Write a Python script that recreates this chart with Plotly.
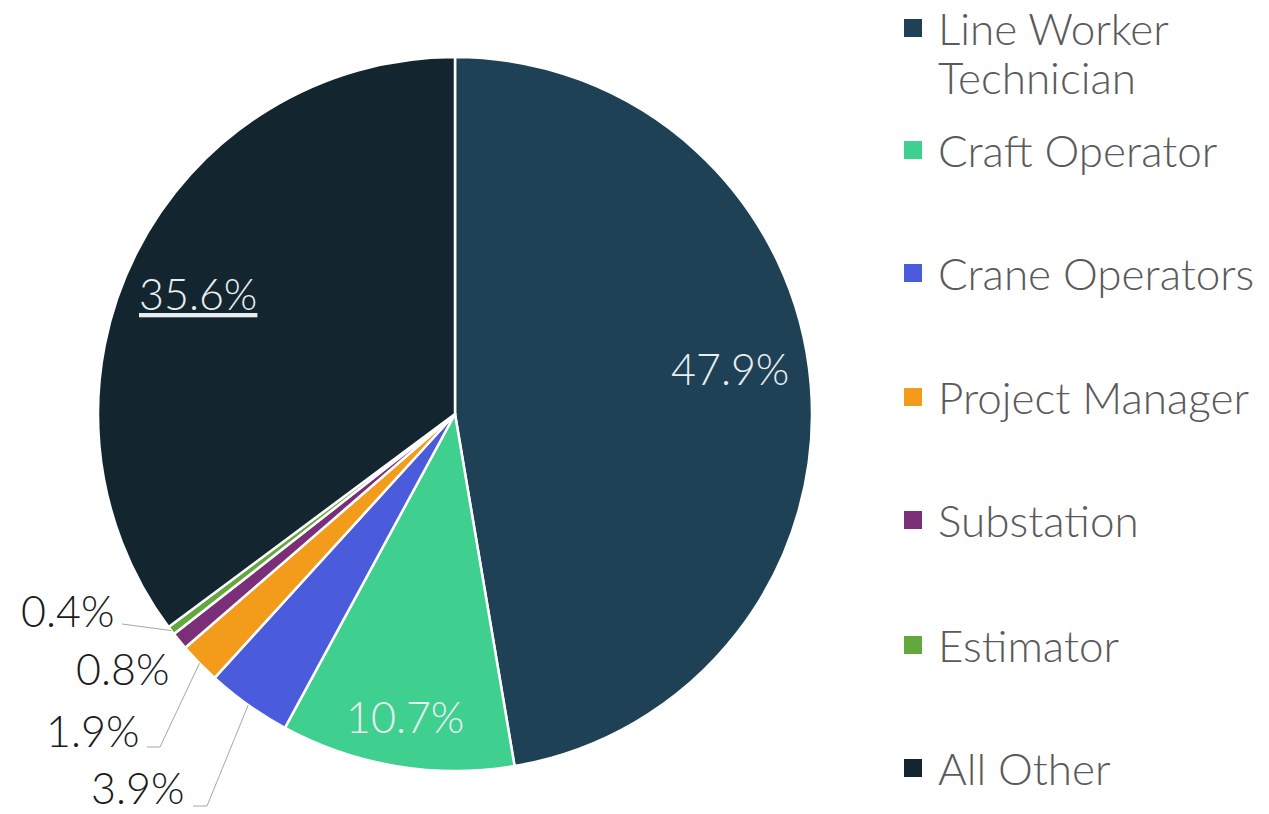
import math
import plotly.graph_objects as go

# ---- data ----
categories = ["Line Worker Technician", "Craft Operator", "Crane Operators",
              "Project Manager", "Substation", "Estimator", "All Other"]
legend_labels = ["Line Worker<br>Technician", "Craft Operator", "Crane Operators",
                 "Project Manager", "Substation", "Estimator", "All Other"]
values = [47.9, 10.7, 3.9, 1.9, 0.8, 0.4, 35.6]
colors = ["#1f4155", "#3fd08f", "#4a5cdc", "#f39c1c", "#7a2f78", "#63a83c", "#13252f"]

# ---- layout geometry (pixels in the page) ----
W, H = 1269, 814
CX, CY, R = 455, 414, 357
FONT = "Lato"
PCT_SIZE = 43
LEG_SIZE = 44


def px(x):
    return x / W


def py(y):
    return 1 - y / H


fig = go.Figure()
fig.add_trace(go.Pie(
    labels=categories, values=values, sort=False, direction="clockwise",
    rotation=0, textinfo="none", hoverinfo="label+value",
    marker=dict(colors=colors, line=dict(color="white", width=2.5)),
    domain=dict(x=[px(CX - R), px(CX + R)], y=[py(CY + R), py(CY - R)]),
    showlegend=False,
))

total = sum(values)
cum = 0.0
mids = []
for v in values:
    mids.append((cum + v / 2) / total * 2 * math.pi)
    cum += v


def polar(i, f, dang=0.0):
    a = mids[i] + math.radians(dang)
    return CX + f * R * math.sin(a), CY - f * R * math.cos(a)


annotations = []
shapes = []

# inside labels (index: radial factor, angle nudge in degrees)
inside = {0: (0.78, -4.7), 1: (0.86, 0.0), 6: (0.795, -1.5)}
for i, (f, d) in inside.items():
    x, y = polar(i, f, d)
    t = f"{values[i]:.1f}%"
    if i == 6:
        t = f"<u>{t}</u>"
    annotations.append(dict(x=px(x), y=py(y), xref="paper", yref="paper",
                            xanchor="center", yanchor="middle",
                            text=t, showarrow=False,
                            font=dict(family=FONT, size=PCT_SIZE, color="#e8eef2", weight=300)))

# outside labels: index -> (label right x, label center y, leader elbow points)
outside = {
    5: (116, 610, [(122, 624)]),
    4: (171, 668, None),
    3: (141, 730, [(160, 747), (147, 747)]),
    2: (186, 787, [(207, 806), (193, 806)]),
}
for i, (lx, ly, pts) in outside.items():
    annotations.append(dict(x=px(lx), y=py(ly), xref="paper", yref="paper",
                            xanchor="right", yanchor="middle",
                            text=f"{values[i]:.1f}%", showarrow=False,
                            font=dict(family=FONT, size=PCT_SIZE, color="#1a1a1a", weight=300)))
    if pts:
        ex, ey = polar(i, 1.0)
        path = f"M {px(ex)} {py(ey)}"
        for (qx, qy) in pts:
            path += f" L {px(qx)} {py(qy)}"
        shapes.append(dict(type="path", xref="paper", yref="paper", path=path,
                           line=dict(color="#a6a6a6", width=1)))

# legend (manual)
leg_y = [28, 150, 273, 397, 520, 645, 768]
LINE_PITCH = 49
for lab, col, y in zip(legend_labels, colors, leg_y):
    shapes.append(dict(type="rect", xref="paper", yref="paper",
                       x0=px(904), x1=px(922), y0=py(y + 9), y1=py(y - 9),
                       fillcolor=col, line=dict(width=0)))
    for k, line in enumerate(lab.split("<br>")):
        annotations.append(dict(x=px(936), y=py(y + k * LINE_PITCH), xref="paper", yref="paper",
                                xanchor="left", yanchor="middle",
                                text=line, showarrow=False, align="left",
                                font=dict(family=FONT, size=LEG_SIZE, color="#5a5a5a", weight=300)))

fig.update_layout(
    width=W, height=H, margin=dict(l=0, r=0, t=0, b=0),
    paper_bgcolor="white", plot_bgcolor="white",
    annotations=annotations, shapes=shapes,
    font=dict(family=FONT),
)
fig.write_html("out.html", config={"displayModeBar": False},
               post_script="document.body.style.margin='0';document.body.style.overflow='hidden';")
